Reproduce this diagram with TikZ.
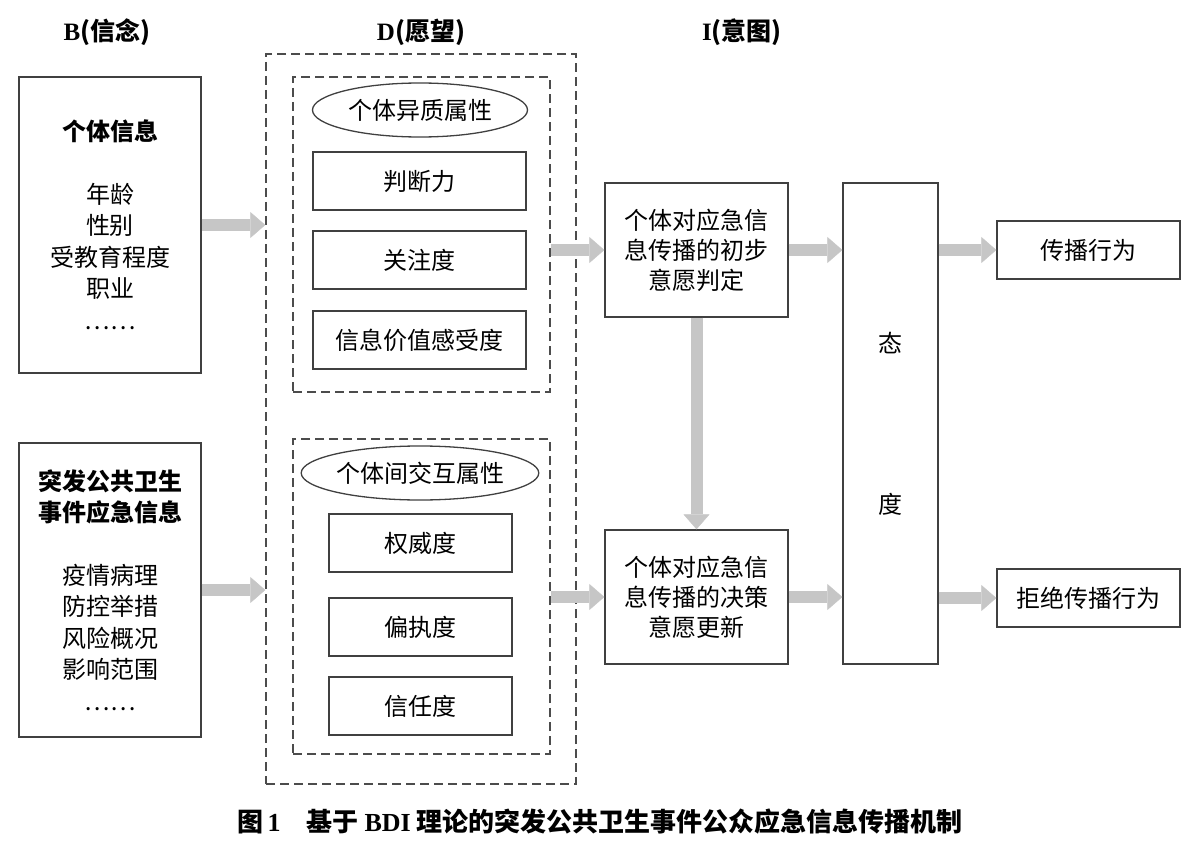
\documentclass[tikz,border=0pt]{standalone}
\usepackage{fontspec}
\setmainfont{Noto Sans CJK SC}
\newfontfamily\latinserif{Liberation Serif}
\usetikzlibrary{shapes.geometric,arrows.meta}

\begin{document}
\begin{tikzpicture}[x=1pt, y=-1pt,
        box/.style={draw=black!75, line width=1.3pt, fill=white, align=center, inner sep=0pt,
            font=\fontsize{24}{31.5}\selectfont},
        group/.style={draw=black!70, line width=1.4pt, dash pattern=on 9pt off 5pt, inner sep=0pt},
        tag/.style={ellipse, draw=black!75, line width=1.3pt, minimum width=215pt, minimum height=54pt,
            inner sep=0pt, font=\fontsize{24}{30}\selectfont},
        flow/.style={draw=gray!45, line width=12pt, -{Triangle[length=15pt, width=26pt, line width=0.5pt]}},
        head/.style={font=\fontsize{25}{30}\selectfont\bfseries}]
    \useasboundingbox (0,0) rectangle (1200,864);

    % column headings
    \node[head] (hB) at (107,32) {{\latinserif B}(信念)};
    \node[head] (hD) at (421,32) {{\latinserif D}(愿望)};
    \node[head] (hI) at (742,32) {{\latinserif I}(意图)};

    % beliefs
    \node[box, minimum width=182pt, minimum height=296pt] (person) at (110,225)
        {{\bfseries 个体信息}\\[31pt]年龄\\性别\\受教育程度\\职业\\……};
    \node[box, minimum width=182pt, minimum height=294pt] (event) at (110,590)
        {{\bfseries 突发公共卫生}\\{\bfseries 事件应急信息}\\[31pt]疫情病理\\防控举措\\风险概况\\影响范围\\……};

    % desires
    \node[group, minimum width=310pt, minimum height=730pt] (desire) at (421,419) {};
    \node[group, minimum width=257pt, minimum height=315pt] (topgrp) at (421.5,234.5) {};
    \node[group, minimum width=257pt, minimum height=315pt] (botgrp) at (421.5,596.5) {};

    \node[tag] (trait) at (420,110) {个体异质属性};
    \node[box, minimum width=213pt, minimum height=58pt] (judge) at (419.5,181) {判断力};
    \node[box, minimum width=213pt, minimum height=58pt] (focus) at (419.5,260) {关注度};
    \node[box, minimum width=213pt, minimum height=58pt] (value) at (419.5,340) {信息价值感受度};

    \node[tag] (inter) at (420,473) {个体间交互属性};
    \node[box, minimum width=183pt, minimum height=58pt] (auth) at (420.5,543) {权威度};
    \node[box, minimum width=183pt, minimum height=58pt] (bias) at (420.5,627) {偏执度};
    \node[box, minimum width=183pt, minimum height=58pt] (trust) at (420.5,706) {信任度};

    % intentions
    \node[box, minimum width=183pt, minimum height=134pt, font=\fontsize{24}{30}\selectfont] (init) at (696.5,250)
        {个体对应急信\\息传播的初步\\意愿判定};
    \node[box, minimum width=183pt, minimum height=134pt, font=\fontsize{24}{30}\selectfont] (upd) at (696.5,597)
        {个体对应急信\\息传播的决策\\意愿更新};
    \node[box, minimum width=95pt, minimum height=481pt] (attitude) at (890.5,423.5) {态\\[129.5pt]度};
    \node[box, minimum width=183pt, minimum height=58pt] (act) at (1088.5,250) {传播行为};
    \node[box, minimum width=183pt, minimum height=58pt] (refuse) at (1088.5,598) {拒绝传播行为};

    % block arrows
    \draw[flow] (person.east) -- (person.east -| desire.west);
    \draw[flow] (event.east) -- (event.east -| desire.west);
    \draw[flow] (topgrp.east |- init.west) -- (init.west);
    \draw[flow] (botgrp.east |- upd.west) -- (upd.west);
    \draw[flow] (init.south) -- (upd.north);
    \draw[flow] (init.east) -- (init.east -| attitude.west);
    \draw[flow] (upd.east) -- (upd.east -| attitude.west);
    \draw[flow] (attitude.east |- act.west) -- (act.west);
    \draw[flow] (attitude.east |- refuse.west) -- (refuse.west);

    \node[font=\fontsize{26}{30}\selectfont\bfseries] (caption) at (600,822)
        {图\,{\latinserif 1}\quad 基于 {\latinserif BDI} 理论的突发公共卫生事件公众应急信息传播机制};
\end{tikzpicture}
\end{document}
